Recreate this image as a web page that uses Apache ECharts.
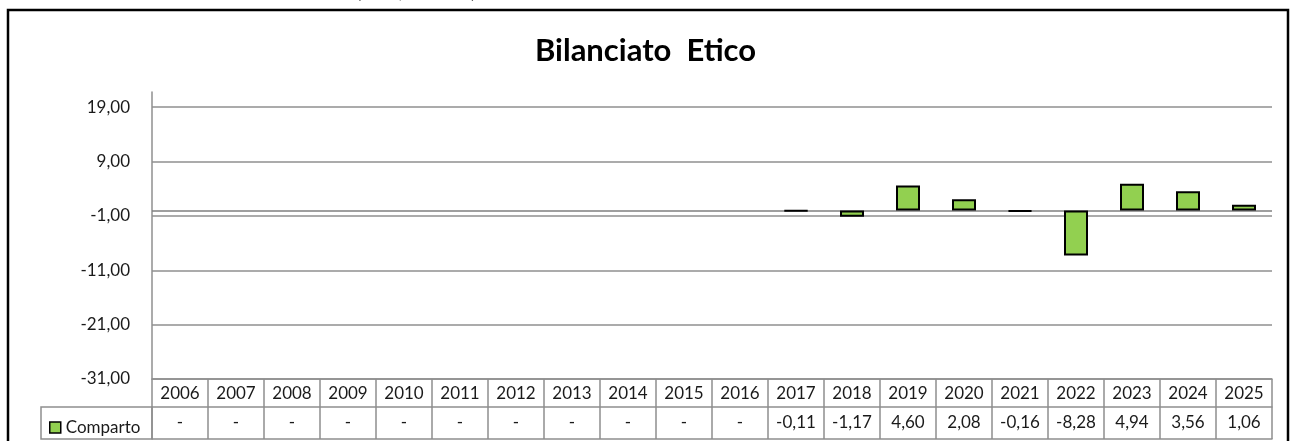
<!DOCTYPE html>
<html>
<head>
<meta charset="utf-8">
<script src="https://cdn.jsdelivr.net/npm/echarts@6/dist/echarts.min.js"></script>
<style>
  html, body { margin: 0; padding: 0; background: #fff; }
  #chart { width: 1291px; height: 441px; }
</style>
</head>
<body>
<div id="chart"></div>
<script>
// years shown in the data table
const years = ["2006", "2007", "2008", "2009", "2010", "2011", "2012", "2013", "2014", "2015",
  "2016", "2017", "2018", "2019", "2020", "2021", "2022", "2023", "2024", "2025"];
// Comparto yearly values (null = "-")
const comparto = [null, null, null, null, null, null, null, null, null, null,
  null, -0.11, -1.17, 4.60, 2.08, -0.16, -8.28, 4.94, 3.56, 1.06];
// y axis tick labels
const yTicks = [-31, -21, -11, -1, 9, 19];

const FONT = "Lato";
const GRID_COLOR = "#8f8f8f";
const TEXT_COLOR = "#1a1a1a";

// values as written in the table row
function fmt(v) {
  if (v === null) return "-";
  return v.toFixed(2).replace(".", ",");
}
const tableRow = comparto.map(fmt);

var chartDom = document.getElementById("chart");
var myChart = echarts.init(chartDom);

var option = {
  animation: false,
  textStyle: { fontFamily: FONT },
  title: {
    text: "Bilanciato  Etico",
    left: "center",
    top: 30,
    textStyle: { fontFamily: FONT, fontSize: 31, fontWeight: "bold", color: "#000" },
  },
  legend: {
    data: ["Comparto"],
    left: 44,
    top: 414,
    icon: "rect",
    itemWidth: 11,
    itemHeight: 11,
    itemStyle: { color: "#92D050", borderColor: "#000", borderWidth: 1.5 },
    textStyle: { fontFamily: FONT, fontSize: 17, color: TEXT_COLOR },
  },
  grid: {
    left: 152,
    right: 19,
    top: 92,
    bottom: 62,
  },
  xAxis: [
    {
      // year row of the table; ticks form the cell borders
      type: "category",
      data: years,
      position: "bottom",
      axisLine: { show: true, onZero: false, lineStyle: { color: GRID_COLOR, width: 1.5 } },
      axisTick: {
        show: true,
        interval: 0,
        alignWithLabel: false,
        length: 60,
        lineStyle: { color: GRID_COLOR, width: 1.5 },
      },
      axisLabel: { interval: 0, margin: 6, fontSize: 17, color: TEXT_COLOR, fontFamily: FONT },
    },
    {
      // values row of the table
      type: "category",
      data: tableRow,
      position: "bottom",
      offset: 28,
      axisLine: { show: true, onZero: false, lineStyle: { color: GRID_COLOR, width: 1.5 } },
      axisTick: { show: false },
      axisLabel: { interval: 0, margin: 7, fontSize: 17, color: TEXT_COLOR, fontFamily: FONT },
    },
    {
      // bottom border of the table
      type: "category",
      data: years,
      position: "bottom",
      offset: 60,
      axisLine: { show: true, onZero: false, lineStyle: { color: GRID_COLOR, width: 1.5 } },
      axisTick: { show: false },
      axisLabel: { show: false },
    },
  ],
  yAxis: {
    type: "value",
    min: -31,
    max: 21.8,
    axisLine: { show: true, lineStyle: { color: GRID_COLOR, width: 1.5 } },
    axisTick: { show: false, customValues: yTicks },
    axisLabel: {
      customValues: yTicks,
      margin: 22,
      fontSize: 17,
      color: TEXT_COLOR,
      fontFamily: FONT,
      formatter: function (v) {
        return v.toFixed(2).replace(".", ",");
      },
    },
    splitLine: { show: true, lineStyle: { color: GRID_COLOR, width: 1.5 } },
  },
  graphic: [
    {
      // outer frame of the chart area
      type: "rect",
      shape: { x: 8, y: 10, width: 1280, height: 445 },
      style: { fill: null, stroke: "#000", lineWidth: 2.5 },
      silent: true,
    },
    {
      // legend cell of the data table
      type: "rect",
      shape: { x: 41, y: 407, width: 111, height: 32 },
      style: { fill: null, stroke: GRID_COLOR, lineWidth: 1.5 },
      silent: true,
    },
    {
      // cut-off caption above the frame
      type: "text",
      x: 356,
      y: 2,
      style: {
        text: "(in %, annuali)",
        font: "20px Lato",
        fill: "#000",
        verticalAlign: "bottom",
      },
      silent: true,
    },
  ],
  series: [
    {
      name: "Comparto",
      type: "bar",
      data: comparto,
      barWidth: 24,
      z: 3,
      itemStyle: { color: "#92D050", borderColor: "#000", borderWidth: 2 },
      markLine: {
        silent: true,
        symbol: "none",
        z: 1,
        label: { show: false },
        lineStyle: { color: "#7f7f7f", type: "solid", width: 1.5 },
        data: [{ yAxis: 0 }],
      },
    },
  ],
};

option && myChart.setOption(option);
</script>
</body>
</html>
